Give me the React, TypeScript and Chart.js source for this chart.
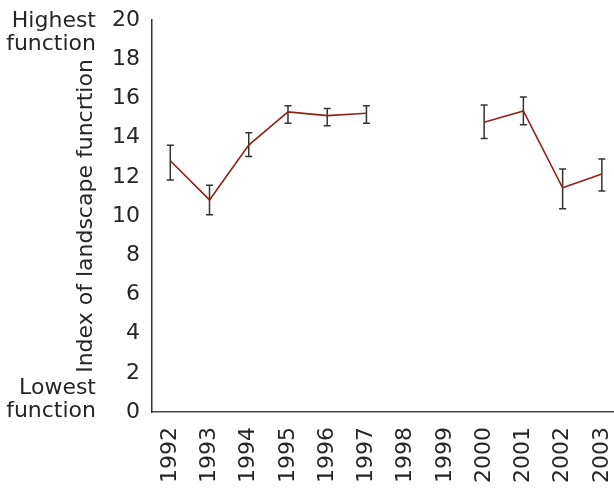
import React, { useEffect, useRef } from "react";
import { Chart, registerables } from "chart.js";

Chart.register(...registerables);

const years = [1992, 1993, 1994, 1995, 1996, 1997, 1998, 1999, 2000, 2001, 2002, 2003];
const values = [12.82, 10.82, 13.62, 15.31, 15.12, 15.24, null, null, 14.78, 15.36, 11.44, 12.14];
const upper = [13.61, 11.57, 14.25, 15.63, 15.49, 15.63, null, null, 15.66, 16.07, 12.4, 12.91];
const lower = [11.84, 10.07, 13.03, 14.73, 14.61, 14.73, null, null, 13.96, 14.66, 10.37, 11.28];
const yTitle = "Index of landscape funcrtion";
const topLabel = ["Highest", "function"];
const bottomLabel = ["Lowest", "function"];

const FONT = "DejaVu Sans";
const TEXT = "#262626";

const errorBars = {
  id: "errorBars",
  beforeDatasetsDraw(chart: any) {
    const ctx = chart.ctx;
    const xs = chart.scales.x;
    const ys = chart.scales.y;
    ctx.save();
    ctx.strokeStyle = "#333333";
    ctx.lineWidth = 1.5;
    years.forEach((yr, i) => {
      const hi = upper[i];
      const lo = lower[i];
      if (hi == null || lo == null) return;
      const x = xs.getPixelForValue(yr);
      const yt = ys.getPixelForValue(hi);
      const yb = ys.getPixelForValue(lo);
      ctx.beginPath();
      ctx.moveTo(x, yt);
      ctx.lineTo(x, yb);
      ctx.moveTo(x - 3.5, yt);
      ctx.lineTo(x + 3.5, yt);
      ctx.moveTo(x - 3.5, yb);
      ctx.lineTo(x + 3.5, yb);
      ctx.stroke();
    });
    ctx.restore();
  },
};

const endLabels = {
  id: "endLabels",
  afterDraw(chart: any) {
    const ctx = chart.ctx;
    ctx.save();
    ctx.font = `22px "${FONT}"`;
    ctx.fillStyle = TEXT;
    ctx.textAlign = "right";
    ctx.textBaseline = "alphabetic";
    ctx.fillText(topLabel[0], 96, 27);
    ctx.fillText(topLabel[1], 96, 50);
    ctx.fillText(bottomLabel[0], 96, 394);
    ctx.fillText(bottomLabel[1], 96, 417);
    ctx.restore();
  },
};

export default function App() {
  const ref = useRef<HTMLCanvasElement | null>(null);
  useEffect(() => {
    if (!ref.current) return;
    const chart = new Chart(ref.current, {
      type: "line",
      data: {
        datasets: [
          {
            data: years.map((x, i) => ({ x, y: values[i] })) as any,
            borderColor: "#8a2416",
            borderWidth: 1.6,
            pointRadius: 0,
            pointHoverRadius: 0,
            spanGaps: false,
            tension: 0,
          },
        ],
      },
      options: {
        responsive: false,
        animation: false,
        events: [],
        layout: { padding: { top: 20, left: 0, right: 0, bottom: 0 } },
        plugins: { legend: { display: false }, tooltip: { enabled: false } },
        scales: {
          x: {
            type: "linear",
            min: 1991.534,
            max: 2003.31,
            afterBuildTicks: (s: any) => {
              s.ticks = years.map((v) => ({ value: v }));
            },
            afterFit: (s: any) => {
              s.height = 77;
              s.paddingLeft = 0;
              s.paddingRight = 0;
            },
            grid: { display: false, drawTicks: false },
            border: { display: true, color: "#444444", width: 1.5 },
            ticks: {
              autoSkip: false,
              maxRotation: 90,
              minRotation: 90,
              padding: 15,
              color: TEXT,
              font: { family: FONT, size: 22 },
              callback: (v: any) => String(v),
            },
          },
          y: {
            min: 0,
            max: 20,
            afterFit: (s: any) => {
              s.width = 152;
              s.paddingTop = 0;
              s.paddingBottom = 0;
            },
            grid: { display: false, drawTicks: false },
            border: { display: true, color: "#333333", width: 1.5 },
            ticks: {
              stepSize: 2,
              padding: 12,
              color: TEXT,
              font: { family: FONT, size: 22 },
            },
            title: {
              display: true,
              text: yTitle,
              color: TEXT,
              font: { family: FONT, size: 22 },
              padding: { top: 73, bottom: 0 },
            },
          },
        },
      },
      plugins: [errorBars, endLabels],
    });
    return () => chart.destroy();
  }, []);
  return (
    <div style={{ position: "absolute", left: 0, top: 0, width: 614, height: 489 }}>
      <canvas ref={ref} width={614} height={489} />
    </div>
  );
}
